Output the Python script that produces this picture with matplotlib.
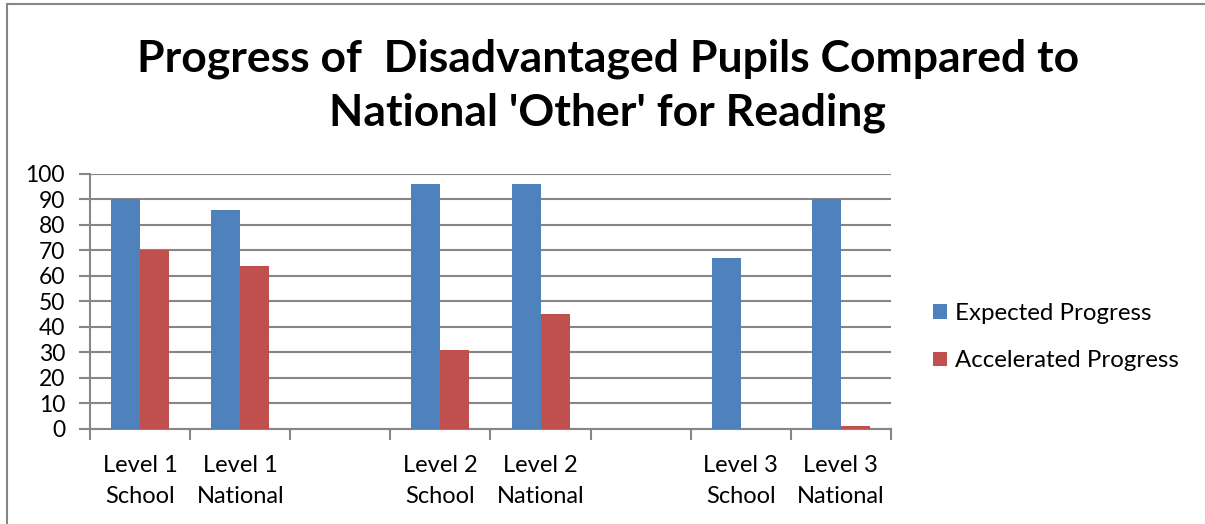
import matplotlib.pyplot as plt
import numpy as np
from matplotlib.lines import Line2D

# chart data
categories = ['Level 1\nSchool', 'Level 1\nNational', '',
              'Level 2\nSchool', 'Level 2\nNational', '',
              'Level 3\nSchool', 'Level 3\nNational']
expected = [90, 86, 0, 96, 96, 0, 67, 90]
accelerated = [70, 64, 0, 31, 45, 0, 0, 1]
series_names = ['Expected Progress', 'Accelerated Progress']

BLUE = '#4f81bd'
RED = '#c0504d'
GREY = '#868686'

plt.rcParams['font.family'] = ['Lato', 'DejaVu Sans']

fig = plt.figure(figsize=(12.05, 5.24), dpi=100)
ax = fig.add_axes([0.0747, 0.1813, 0.6647, 0.4867])

x = np.arange(len(categories)) + 0.5
w = 0.29
ax.bar(x - w / 2, expected, w, color=BLUE, label=series_names[0], zorder=3)
ax.bar(x + w / 2, accelerated, w, color=RED, label=series_names[1], zorder=3)

ax.set_xlim(0, len(categories))
ax.set_ylim(0, 100)
ax.set_yticks(range(0, 101, 10))
ax.yaxis.grid(True, color=GREY, linewidth=1.5, zorder=0)
ax.set_axisbelow(True)

# category boundaries as ticks, labels in the middle
ax.set_xticks(np.arange(len(categories) + 1))
ax.set_xticklabels([])
ax.set_xticks(x, minor=True)
ax.set_xticklabels(categories, minor=True, fontsize=17, linespacing=1.6)
ax.tick_params(axis='x', which='major', length=8, width=1.5, color=GREY)
ax.tick_params(axis='x', which='minor', length=0, pad=18.5)
ax.tick_params(axis='y', length=8, width=1.5, color=GREY, labelsize=16.5, pad=10)

for s in ['top', 'right']:
    ax.spines[s].set_visible(False)
for s in ['left', 'bottom']:
    ax.spines[s].set_color(GREY)
    ax.spines[s].set_linewidth(1.5)

fig.text(0.5045, 0.836, "Progress of  Disadvantaged Pupils Compared to\nNational 'Other' for Reading",
         ha='center', va='center', fontsize=32, fontweight='bold', linespacing=1.42)

ax.legend(loc='center left', bbox_to_anchor=(1.026, 0.36), frameon=False, fontsize=17.3,
          handlelength=0.55, handleheight=0.55, handletextpad=0.35, labelspacing=1.1)

# outer chart border
fig.add_artist(Line2D([0.006, 0.006], [0, 0.992], color=GREY, linewidth=1.5))
fig.add_artist(Line2D([0.006, 1], [0.992, 0.992], color=GREY, linewidth=1.5))

fig.savefig('out.png', dpi=100)
